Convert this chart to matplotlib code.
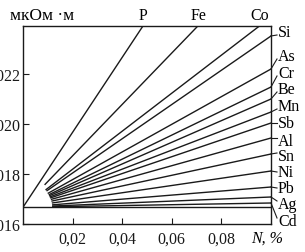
import matplotlib
matplotlib.use("Agg")
import matplotlib.pyplot as plt
import numpy as np

plt.rcParams['font.family'] = ['Liberation Serif', 'DejaVu Serif']

# common origin of the fan of lines
base_value = 0.01667

# lines reaching the top of the frame: name, N% at which they hit the top
top_names = ["P", "Fe", "Co"]
top_x = [0.0485, 0.0707, 0.0956]
top_start = [0.0, 0.0089, 0.0093]

# lines reaching the right edge (N = 0.1 %): name, resistivity there
right_names = ["Si", "As", "Cr", "Be", "Mn", "Sb", "Al", "Sn", "Ni", "Pb", "Ag", "Cd"]
right_y = [0.02352, 0.0222, 0.02148, 0.0210, 0.02048, 0.02004, 0.01944,
           0.0188, 0.01812, 0.01748, 0.01708, 0.01684]
right_start = [0.0097, 0.0102, 0.0106, 0.0108, 0.011, 0.0112, 0.0115,
               0.0117, 0.0119, 0.012, 0.012, 0.012]
right_label_y = [0.02368, 0.02272, 0.02204, 0.0214, 0.02072, 0.02004, 0.01932,
                 0.01872, 0.01808, 0.01744, 0.0168, 0.01612]

x_ticks = [0.02, 0.04, 0.06, 0.08]
x_tick_labels = ["0,02", "0,04", "0,06", "0,08"]
y_ticks = [0.016, 0.018, 0.020, 0.022]
y_tick_labels = ["0,016", "0,018", "0,020", "0,022"]

xmax = 0.1
ymin, ymax = 0.016, 0.02394

fig = plt.figure(figsize=(3.05, 2.53), dpi=100)
ax = fig.add_axes([23 / 305, 1 - 225 / 253, 248 / 305, (225 - 26.5) / 253])
ax.set_xlim(0, xmax)
ax.set_ylim(ymin, ymax)

lc = "#1a1a1a"
lw = 1.0
fs = 11.5

dx_px = xmax / 248.0
dy_px = (ymax - ymin) / 198.5

# baseline
ax.plot([0, xmax], [base_value, base_value], color=lc, lw=lw)

for name, xt, xs in zip(top_names, top_x, top_start):
    slope = (ymax - base_value) / xt
    ax.plot([xs, xt], [base_value + slope * xs, ymax], color=lc, lw=lw)
    ax.text(xt, ymax + 6 * dy_px, name, ha="center", va="baseline", fontsize=fs,
            clip_on=False)

for name, ye, xs, ly in zip(right_names, right_y, right_start, right_label_y):
    slope = (ye - base_value) / xmax
    ax.plot([xs, xmax], [base_value + slope * xs, ye], color=lc, lw=lw)
    lx = xmax + 7 * dx_px
    ax.text(lx, ly, name, ha="left", va="center", fontsize=fs, clip_on=False)
    diff = (ly - ye) / dy_px
    if diff > 2:
        ty = ly - 3 * dy_px
    elif diff < -2:
        ty = ly + 3 * dy_px
    else:
        ty = ly
    ax.plot([xmax, xmax + 6 * dx_px], [ye, ty], color=lc, lw=0.8, clip_on=False)

ax.set_xticks(x_ticks)
ax.set_xticklabels(x_tick_labels)
ax.set_yticks(y_ticks)
ax.set_yticklabels(y_tick_labels)
ax.tick_params(direction="in", length=4, width=0.8, labelsize=fs, colors=lc)
ax.tick_params(axis="x", pad=5)
ax.tick_params(axis="y", pad=2)
for s in ax.spines.values():
    s.set_linewidth(1.0)
    s.set_color(lc)

ax.text(-13 * dx_px, ymax + 6 * dy_px, "мкОм ·м", ha="left", va="baseline", fontsize=12.5,
        clip_on=False)
ax.text(0.092, ymin - 6 * dy_px, "N, %", ha="left", va="top", fontsize=fs, style="italic",
        clip_on=False)

fig.savefig("out.png", dpi=100)
